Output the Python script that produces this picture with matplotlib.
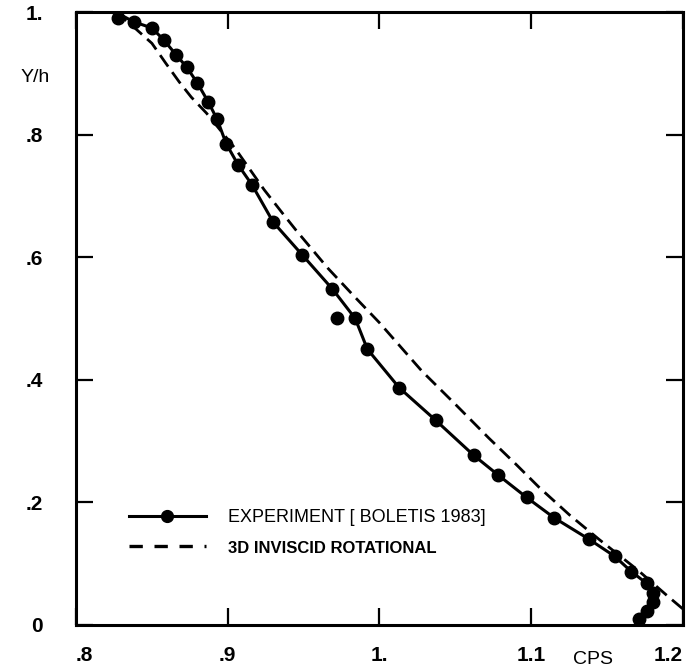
import matplotlib
matplotlib.use("Agg")
import matplotlib.pyplot as plt

plt.rcParams['font.family'] = ['Liberation Sans', 'DejaVu Sans']

# Experimental points (Boletis 1983): CPS vs Y/h
exp_x = [0.828, 0.838, 0.850, 0.858, 0.866, 0.873, 0.880, 0.887, 0.893, 0.899,
         0.907, 0.916, 0.930, 0.949, 0.969, 0.972, 0.984, 0.992, 1.013, 1.037,
         1.062, 1.078, 1.097, 1.115, 1.138, 1.155, 1.166, 1.176, 1.180, 1.180,
         1.176, 1.171]
exp_y = [0.990, 0.984, 0.974, 0.954, 0.930, 0.910, 0.884, 0.854, 0.825, 0.785,
         0.750, 0.718, 0.657, 0.604, 0.548, 0.500, 0.500, 0.450, 0.387, 0.334,
         0.277, 0.245, 0.208, 0.175, 0.140, 0.112, 0.087, 0.068, 0.052, 0.037,
         0.023, 0.010]

# Faired curve through the experiment
fit_x = [0.826, 0.838, 0.850, 0.858, 0.866, 0.873, 0.880, 0.887, 0.893, 0.899,
         0.907, 0.916, 0.930, 0.949, 0.969, 0.984, 0.992, 1.013, 1.037,
         1.062, 1.078, 1.097, 1.115, 1.138, 1.155, 1.166, 1.176, 1.180, 1.180,
         1.176, 1.171]
fit_y = [1.000, 0.984, 0.974, 0.954, 0.930, 0.910, 0.884, 0.854, 0.825, 0.785,
         0.750, 0.718, 0.657, 0.604, 0.548, 0.500, 0.450, 0.387, 0.334,
         0.277, 0.245, 0.208, 0.175, 0.140, 0.112, 0.087, 0.068, 0.052, 0.037,
         0.023, 0.010]

# 3D inviscid rotational computation
inv_x = [0.826, 0.836, 0.850, 0.859, 0.868, 0.876, 0.886, 0.905, 0.924, 0.936,
         0.945, 0.966, 0.983, 1.000, 1.028, 1.050, 1.072, 1.090, 1.105, 1.125,
         1.145, 1.170, 1.189, 1.200]
inv_y = [1.000, 0.980, 0.949, 0.917, 0.886, 0.861, 0.835, 0.777, 0.710, 0.672,
         0.644, 0.582, 0.537, 0.493, 0.414, 0.360, 0.305, 0.262, 0.225, 0.180,
         0.139, 0.090, 0.049, 0.026]

xticks = [0.8, 0.9, 1.0, 1.1, 1.2]
xticklabels = ['.8', '.9', '1.', '1.1', '1.2']
yticks = [0.0, 0.2, 0.4, 0.6, 0.8, 1.0]
yticklabels = ['0', '.2', '.4', '.6', '.8', '1.']

fig = plt.figure(figsize=(6.86, 6.71), dpi=100)
ax = fig.add_axes([0.1108, 0.0686, 0.8848, 0.9135])

ax.plot(fit_x, fit_y, color='black', lw=2.2, zorder=3)
ax.plot(exp_x, exp_y, linestyle='none', marker='o', ms=9, color='black', zorder=4)
ax.plot(inv_x, inv_y, color='black', lw=2.0, dashes=(5, 2.5), zorder=2)

# legend proxies
h1, = ax.plot([], [], color='black', lw=2.2, marker='o', ms=8.5)
h2, = ax.plot([], [], color='black', lw=2.4, dashes=(4, 3.5))
leg = ax.legend([h1, h2], ['EXPERIMENT [ BOLETIS 1983]', '3D INVISCID ROTATIONAL'],
                loc='upper left', bbox_to_anchor=(0.06, 0.215), frameon=False,
                handlelength=4.3, handletextpad=1.2, labelspacing=0.75,
                fontsize=13, numpoints=1)
leg.get_texts()[1].set_fontweight('bold')
leg.get_texts()[1].set_fontsize(12)

ax.set_xlim(0.8, 1.2)
ax.set_ylim(0.0, 1.0)
ax.set_xticks(xticks)
ax.set_xticklabels(xticklabels)
ax.set_yticks(yticks)
ax.set_yticklabels(yticklabels)
ax.tick_params(direction='in', length=12, width=1.6, top=True, right=True,
               labelsize=15)
ax.tick_params(axis='x', pad=15)
ax.tick_params(axis='y', pad=24)
for lab in ax.get_xticklabels() + ax.get_yticklabels():
    lab.set_fontweight('bold')
ax.get_xticklabels()[-1].set_horizontalalignment('right')
ax.get_xticklabels()[0].set_horizontalalignment('left')

for sp in ax.spines.values():
    sp.set_linewidth(2.2)

ax.text(0.852, -0.056, 'CPS', transform=ax.transAxes, fontsize=14,
        ha='center', va='center')
fig.text(0.051, 0.884, 'Y/h', fontsize=14, ha='center', va='center')

fig.savefig('out.png', dpi=100)
